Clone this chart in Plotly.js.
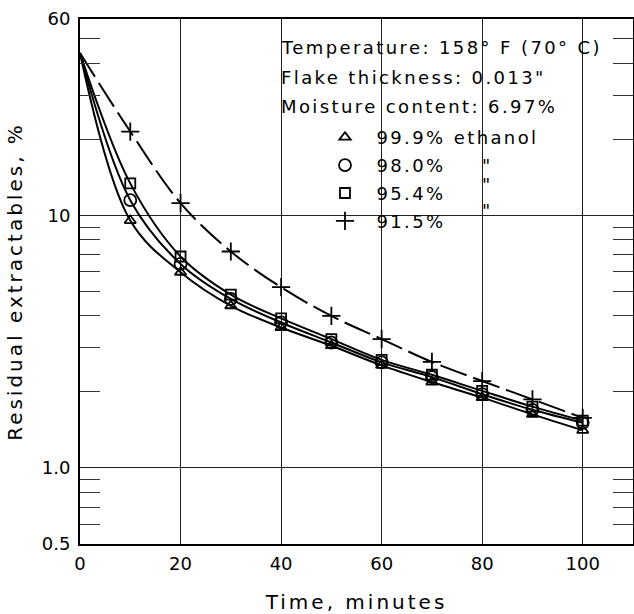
<!DOCTYPE html>
<html>
<head>
<meta charset="utf-8">
<script src="https://cdn.plot.ly/plotly-3.0.1.min.js"></script>
<style>
  html, body { margin: 0; padding: 0; background: #fff; }
  #chart { width: 634px; height: 614px; }
  .annotation-text, .legendtext { letter-spacing: 2.4px; }
  .xtitle, .ytitle { letter-spacing: 3px; }
</style>
</head>
<body>
<div id="chart"></div>
<script>
// ---- data ----
const timeMin = [0, 10, 20, 30, 40, 50, 60, 70, 80, 90, 100];
const eth999 = [44, 9.55, 5.96, 4.39, 3.60, 3.05, 2.55, 2.19, 1.90, 1.63, 1.41];
const eth980 = [44, 11.5, 6.43, 4.67, 3.77, 3.14, 2.62, 2.29, 1.96, 1.70, 1.51];
const eth954 = [44, 13.4, 6.88, 4.86, 3.91, 3.24, 2.68, 2.34, 2.02, 1.75, 1.54];
const eth915 = [44, 21.5, 11.2, 7.2, 5.2, 4.0, 3.24, 2.63, 2.21, 1.87, 1.58];

const seriesNames = ['99.9% ethanol', '98.0%', '95.4%', '91.5%'];
const xTicks = [0, 20, 40, 60, 80, 100];
const yTicks = [0.5, 1, 10, 60];
const yTickText = ['0.5', '1.0', '10', '60'];
const yMinorTicks = [0.6, 0.7, 0.8, 0.9, 2, 3, 4, 5, 6, 7, 8, 9, 20, 30, 40, 50];
const noteLines = ['Temperature: 158° F (70° C)', 'Flake thickness: 0.013"', 'Moisture content: 6.97%'];
const dittoMark = '"';

const FONT = 'DejaVu Sans, sans-serif';
const series = [eth999, eth980, eth954, eth915];
const symbols = ['triangle-up-open', 'circle-open', 'square-open', 'cross-thin-open'];
const msizes = [10, 12, 10, 13];
const dashes = ['solid', 'solid', 'solid', '28px,7px'];

const traces = [];
series.forEach((s, i) => {
  traces.push({
    x: timeMin, y: s, mode: 'lines', type: 'scatter',
    line: { color: '#000', width: 2, shape: 'spline', smoothing: 1, dash: dashes[i] },
    showlegend: false, hoverinfo: 'skip'
  });
});
series.forEach((s, i) => {
  traces.push({
    x: timeMin.slice(1), y: s.slice(1), mode: 'markers', type: 'scatter',
    name: '\u2002' + seriesNames[i], legendgroup: 'g' + i,
    marker: { symbol: symbols[i], size: msizes[i], color: '#000',
              line: { color: '#000', width: 1.8 } },
    cliponaxis: false
  });
});

// plot box in pixels: left 80, right 633, top 19, bottom 544
const L = 80, R = 633, T = 19, B = 544;
const px = v => (v - L) / (R - L);
const py = v => 1 - (v - T) / (B - T);

const annotations = [];
[48, 78, 107].forEach((yy, i) => {
  annotations.push({
    xref: 'paper', yref: 'paper', x: px(279), y: py(yy),
    xanchor: 'left', yanchor: 'middle', showarrow: false,
    text: noteLines[i], font: { family: FONT, size: 18, color: '#000' }
  });
});
[165, 185, 211].forEach(yy => {
  annotations.push({
    xref: 'paper', yref: 'paper', x: px(487), y: py(yy),
    xanchor: 'center', yanchor: 'middle', showarrow: false,
    text: dittoMark, font: { family: FONT, size: 18, color: '#000' }
  });
});

const layout = {
  width: 634, height: 614,
  margin: { l: L, r: 634 - R, t: T, b: 614 - B, pad: 0 },
  paper_bgcolor: '#fff', plot_bgcolor: '#fff',
  showlegend: true,
  legend: {
    x: px(325), y: py(119), xanchor: 'left', yanchor: 'top',
    bgcolor: 'rgba(0,0,0,0)', borderwidth: 0,
    font: { family: FONT, size: 18, color: '#000' },
    traceorder: 'grouped', tracegroupgap: 1.5, itemwidth: 30
  },
  font: { family: FONT, color: '#000' },
  xaxis: {
    range: [0, 110], tickmode: 'array', tickvals: xTicks,
    showgrid: true, gridcolor: '#222', gridwidth: 1,
    showline: true, linecolor: '#000', linewidth: 2, mirror: true,
    ticks: '', zeroline: false,
    tickfont: { family: FONT, size: 18, color: '#000' },
    ticklabelstandoff: 2,
    title: { text: 'Time, minutes', font: { family: FONT, size: 20, color: '#000' }, standoff: 22 }
  },
  yaxis: {
    type: 'log', range: [Math.log10(0.5), Math.log10(60)],
    tickmode: 'array', tickvals: yTicks, ticktext: yTickText,
    showgrid: true, gridcolor: '#222', gridwidth: 1,
    showline: true, linecolor: '#000', linewidth: 2, mirror: 'allticks',
    ticks: 'inside', ticklen: 0, zeroline: false,
    minor: { tickmode: 'array', tickvals: yMinorTicks, ticks: 'inside', ticklen: 20,
             tickcolor: '#333', tickwidth: 1, showgrid: false },
    tickfont: { family: FONT, size: 18, color: '#000' },
    ticklabelstandoff: 4,
    title: { text: 'Residual extractables, %', font: { family: FONT, size: 20, color: '#000' }, standoff: 14 }
  },
  annotations: annotations
};

Plotly.newPlot('chart', traces, layout, { staticPlot: true, displayModeBar: false });
</script>
</body>
</html>
